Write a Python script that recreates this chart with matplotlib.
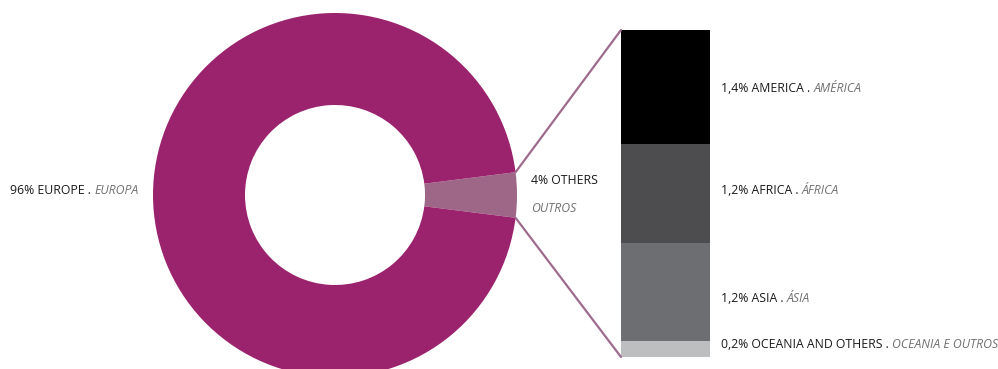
import numpy as np
import matplotlib.pyplot as plt
from matplotlib.patches import ConnectionPatch

plt.rcParams['font.family'] = ['Open Sans', 'DejaVu Sans']

# main split
main_labels = ['4% OTHERS', '96% EUROPE']
main_values = [4, 96]
main_colors = ['#9E6787', '#9B236E']

# breakdown of "others" (bottom to top)
sub_en = ['0,2% OCEANIA AND OTHERS', '1,2% ASIA', '1,2% AFRICA', '1,4% AMERICA']
sub_pt = ['OCEANIA E OUTROS', 'ÁSIA', 'ÁFRICA', 'AMÉRICA']
sub_values = [0.2, 1.2, 1.2, 1.4]
sub_colors = ['#BCBEC0', '#6D6E71', '#4D4D4F', '#000000']

W, H = 998, 369
fig = plt.figure(figsize=(W / 100, H / 100), dpi=100)

# donut, in pixel-like coordinates
ax = fig.add_axes([0, 0, 1, 1])
cx, cy, r = 335, 174, 182
span = main_values[0] / sum(main_values) * 360
wedges, _ = ax.pie(main_values, colors=main_colors, startangle=-span / 2,
                   center=(cx, cy), radius=r, counterclock=True,
                   wedgeprops=dict(width=92, linewidth=0))
ax.set_xlim(0, W)
ax.set_ylim(0, H)
ax.set_aspect('auto')
ax.axis('off')

fs = 8.8
txt_kw = dict(fontsize=fs, color='#1a1a1a')
it_kw = dict(fontsize=fs, color='#707070', style='italic')

t = ax.text(10, H - 190, '96% EUROPE . ', va='center', ha='left', **txt_kw)
ax.annotate('EUROPA', xy=(1, 0), xycoords=t, va='bottom', ha='left', **it_kw)
ax.text(531, H - 181, main_labels[0], va='center', ha='left', **txt_kw)
ax.text(531, H - 208, 'OUTROS', va='center', ha='left', **it_kw)

# stacked bar for the breakdown
bx0, bx1, by0, by1 = 621, 710, 357, 30
bax = fig.add_axes([bx0 / W, (H - by0) / H, (bx1 - bx0) / W, (by0 - by1) / H])
bottom = 0
for v, c in zip(sub_values, sub_colors):
    bax.bar(0, v, bottom=bottom, width=1, color=c, linewidth=0)
    bottom += v
bax.set_xlim(-0.5, 0.5)
bax.set_ylim(0, sum(sub_values))
bax.axis('off')

# label rows, top of figure = 0 px
label_rows = [345, 298, 191, 89]
for en, pt, yp in zip(sub_en, sub_pt, label_rows):
    t = ax.text(721, H - yp, en + ' . ', va='center', ha='left', **txt_kw)
    ax.annotate(pt, xy=(1, 0), xycoords=t, va='bottom', ha='left', **it_kw)

# connector lines from the others wedge to the bar
theta = np.radians(span / 2)
line_c = '#9E6A8E'
for sgn, ybar in [(1, sum(sub_values)), (-1, 0)]:
    p = (cx + r * np.cos(theta), cy + sgn * r * np.sin(theta))
    con = ConnectionPatch(xyA=p, coordsA=ax.transData,
                          xyB=(-0.5, ybar), coordsB=bax.transData,
                          color=line_c, linewidth=1.6)
    fig.add_artist(con)

fig.savefig('out.png', dpi=100, facecolor='white')
